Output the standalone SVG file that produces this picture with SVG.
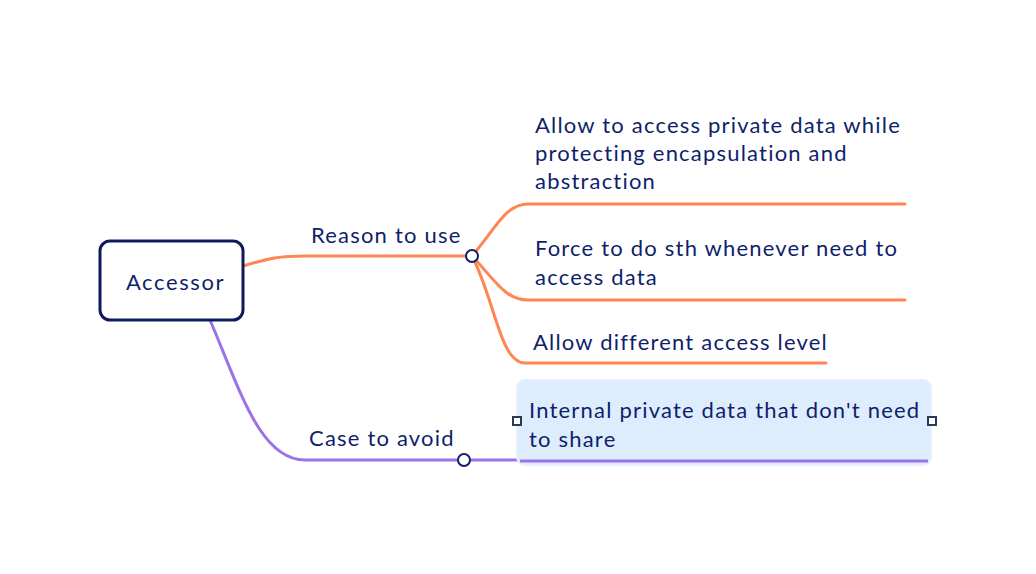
<svg xmlns="http://www.w3.org/2000/svg" width="1036" height="574" viewBox="0 0 1036 574">
<style>
text{font-family:Lato,"Open Sans",sans-serif;font-size:22px;fill:#0f1f6b;letter-spacing:1.2px}
.o{fill:none;stroke:#ff8552;stroke-width:3;stroke-linecap:round}
.p{fill:none;stroke:#9b72ea;stroke-width:3}
.dot{fill:#fff;stroke:#0f1f6b;stroke-width:2}
.sq{fill:#fff;stroke:#2a3a55;stroke-width:2}
</style>
<rect width="1036" height="574" fill="#fff"/>
<g id="connectors">
<path class="o" d="M243,266 C270,258 280,256 305,256 L472,256"/>
<path class="o" d="M472,256 C495,230 505,204 528,204 L905,204"/>
<path class="o" d="M472,256 C495,280 505,300 528,300 L905,300"/>
<path class="o" d="M472,256 C495,300 500,363 525,363 L826,363"/>
<path class="p" d="M210,320 C240,390 260,460 305,460 L518,460"/>
<circle class="dot" cx="472" cy="256" r="6"/>
<circle class="dot" cx="464" cy="460" r="6"/>
</g>
<g id="root">
<rect x="100" y="241" width="143" height="79" rx="10" fill="#fff" stroke="#0f1a5c" stroke-width="3"/>
<text x="175.5" y="290" text-anchor="middle" style="letter-spacing:1.6px">Accessor</text>
</g>
<g id="reason">
<text x="311" y="243">Reason to use</text>
</g>
<g id="n1">
<text x="535" y="133">Allow to access private data while</text>
<text x="535" y="161">protecting encapsulation and</text>
<text x="535" y="189">abstraction</text>
</g>
<g id="n2">
<text x="535" y="256">Force to do sth whenever need to</text>
<text x="535" y="285">access data</text>
</g>
<g id="n3">
<text x="533" y="350">Allow different access level</text>
</g>
<g id="case">
<text x="309" y="446">Case to avoid</text>
</g>
<g id="n4">
<rect x="517" y="380" width="414" height="85" rx="8" fill="#deedfd" stroke="#e6f0fd" stroke-width="2"/>
<line x1="520" y1="461" x2="928" y2="461" stroke="#9b72ea" stroke-width="3"/>
<text x="529" y="418">Internal private data that don't need</text>
<text x="529" y="447">to share</text>
<rect class="sq" x="513" y="417" width="8" height="8"/>
<rect class="sq" x="928" y="417" width="8" height="8"/>
</g>
</svg>
